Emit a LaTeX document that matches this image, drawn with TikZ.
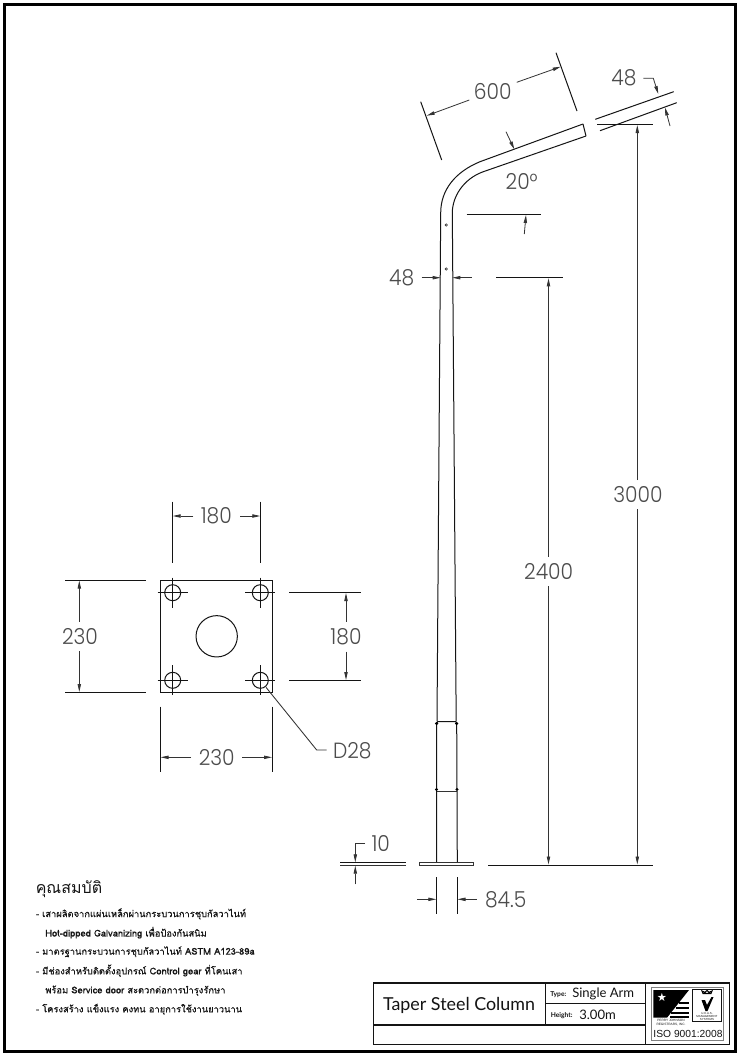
\documentclass[tikz,border=0pt]{standalone}
\usepackage{fontspec}
\usetikzlibrary{arrows.meta}
\setmainfont{Liberation Sans}
\newfontfamily\thaifont[Script=Thai,FakeBold=0.5]{Loma}
\newfontfamily\thaihead[Script=Thai]{Loma}
\newfontfamily\dimfont[FakeStretch=0.92]{Poppins Light}
\newfontfamily\titlefont{Lato}
\newfontfamily\symfont{DejaVu Sans}
\definecolor{ink}{gray}{0.08}
\definecolor{dimink}{gray}{0.2}
\definecolor{digit}{gray}{0.3}
\tikzset{
  part/.style={draw=ink,line width=0.75pt},
  thin line/.style={draw=dimink,line width=0.65pt},
  dimarrow/.style={draw=dimink,line width=0.6pt,-{Triangle[length=6pt,width=2.5pt]}},
  dimtext/.style={font=\dimfont\fontsize{16.5}{17}\selectfont,text=digit,inner sep=0pt},
  notes/.style={font=\thaifont\fontsize{7}{8}\selectfont,text=ink,anchor=west,inner sep=0pt},
  box/.style={draw=ink,line width=0.8pt},
}
\begin{document}
\begin{tikzpicture}[x=0.75pt,y=-0.75pt]
\useasboundingbox (0,0) rectangle (741,1058);
\fill[white] (0,0) rectangle (741,1058);
% sheet border
\draw[line width=2.4pt,draw=black] (4.5,4.5) rectangle (735.5,1051.7);

% ---- column
\draw[part] (583,124) -- (586,136);
\draw[part] (583,124) -- (480,161.7) .. controls (455,172) and (440.7,190) .. (440.7,213) -- (437,721);
\draw[part] (586,136) -- (483.3,171.7) .. controls (463,179) and (452.3,197) .. (452.3,213) -- (456.2,721);
\draw[thin line,line width=0.5pt] (446.3,225) circle[radius=0.9pt] (446.3,269) circle[radius=0.9pt];
% service door
\draw[part] (436.7,723.5) -- (437.6,721.7) -- (455.8,721.7) -- (456.7,723.5) -- (457,789.5);
\draw[part] (436.7,723.5) -- (436.5,789.5);
\fill[black] (436.7,723.5) circle[radius=1.3pt] (456.7,723.5) circle[radius=1.3pt]
  (436.5,789.5) circle[radius=1.3pt] (457,789.5) circle[radius=1.3pt];
\draw[thin line] (437,791.5) -- (457,791.5);
\draw[part] (436.7,791) -- (436.5,862.5);
\draw[part] (457,791) -- (457.3,862.5);
% base plate
\draw[thin line,line width=0.75pt] (419.5,862.4) rectangle (473.7,865.4);

% ---- column dimensions
\draw[part] (420.7,101.7) -- (441.7,160);
\draw[part] (556,52.7) -- (577,111);
\draw[dimarrow] (469.3,100) -- (426.7,115.7);
\draw[dimarrow] (516.7,82.3) -- (560.7,66.7);
\node[dimtext] (t600) at (492.7,91.5) {600};
\draw[dimarrow] (506,131.7) -- (514.3,149.3);
\node[dimtext] (t20) at (521.7,181.5) {20°};
\draw[part] (466.7,214.4) -- (540.7,214.4);
\draw[dimarrow] (524.3,234) -- (526,215);
% 48 top right
\draw[part] (595.3,119.3) -- (673.7,91.7);
\draw[part] (600,130.7) -- (676.7,102.7);
\node[dimtext] (t48a) at (624,78) {48};
\draw[dimarrow] (643.3,78.3) -- (653.3,78.3) -- (658.3,94);
\draw[dimarrow] (670,126) -- (665,107.5);
% 48 left
\node[dimtext] (t48b) at (401.7,277.7) {48};
\draw[dimarrow] (421.7,277.7) -- (440.7,277.7);
\draw[dimarrow] (471.7,277.7) -- (452.3,277.7);
% 3000 and 2400
\draw[part] (597,124.3) -- (653,124.3);
\draw[part] (496,277.7) -- (562.7,277.7);
\draw[dimarrow] (637.3,480) -- (637.3,125);
\draw[dimarrow] (637.3,509.3) -- (637.3,864.5);
\draw[dimarrow] (548.5,556.7) -- (548.5,278.3);
\draw[dimarrow] (548.5,586) -- (548.5,864.5);
\node[dimtext] (t3000) at (638,495) {3000};
\node[dimtext] (t2400) at (548.7,571.3) {2400};
\draw[part,line width=1pt] (488,865.3) -- (653,865.3);
% 10
\draw[part] (340,862.6) -- (405.5,862.6);
\draw[thin line,line width=0.75pt] (340,865.4) -- (405.5,865.4);
\node[dimtext] (t10) at (380.7,844) {10};
\draw[dimarrow] (365,843.3) -- (355.3,843.3) -- (355.3,862.3);
\draw[dimarrow] (355.3,884.3) -- (355.3,865.7);
% 84.5
\draw[part] (436.5,877.3) -- (436.5,914);
\draw[part] (457.5,877.3) -- (457.5,914);
\draw[dimarrow] (417.3,899.3) -- (436.3,899.3);
\draw[dimarrow] (476.7,899.3) -- (457.5,899.3);
\node[dimtext] (t845) at (505.7,900) {84.5};

% ---- base plate plan
\draw[part] (160.3,580.3) rectangle (272.3,692.3);
\draw[part] (216.7,636.3) circle[radius=15.5pt];
\foreach \hx/\hy in {172.7/592.7,260.3/592.7,172.7/680.3,260.3/680.3}{
  \draw[part] (\hx,\hy) circle[radius=6pt];
  \draw[part] (\hx-15,\hy) -- (\hx+15,\hy);
  \draw[part] (\hx,\hy-15) -- (\hx,\hy+15);
}
% 180 top
\draw[part] (172.7,501.7) -- (172.7,563.3);
\draw[part] (260.3,501.7) -- (260.3,563.3);
\draw[dimarrow] (193.3,516) -- (172.7,516);
\draw[dimarrow] (240,516) -- (260.3,516);
\node[dimtext] (t180a) at (216.3,516) {180};
% 230 left
\draw[part] (65,580.3) -- (145.7,580.3);
\draw[part] (65,692.3) -- (145.7,692.3);
\draw[dimarrow] (79.3,621.7) -- (79.3,580.6);
\draw[dimarrow] (79.3,651) -- (79.3,692);
\node[dimtext] (t230a) at (80,636.7) {230};
% 180 right
\draw[part] (289.3,592.7) -- (361,592.7);
\draw[part] (289.3,680.3) -- (361,680.3);
\draw[dimarrow] (346,621.7) -- (346,593);
\draw[dimarrow] (346,651.7) -- (346,680);
\node[dimtext] (t180b) at (346,636.7) {180};
% 230 bottom
\draw[part] (160.3,706.7) -- (160.3,772.3);
\draw[part] (272.3,706.7) -- (272.3,772.3);
\draw[dimarrow] (191,757.3) -- (160.6,757.3);
\draw[dimarrow] (242.3,757.3) -- (272,757.3);
\node[dimtext] (t230b) at (216.7,757.3) {230};
% D28
\draw[thin line] (266,687.3) -- (316.7,750) -- (326.7,750);
\node[dimtext] (td28) at (352.3,750.7) {D28};

% ---- notes
\node[notes,font=\thaihead\fontsize{12}{14}\selectfont] (nt) at (35.5,889) {คุณสมบัติ};
\node[notes] (n1) at (35.7,914) {- เสาผลิตจากแผ่นเหล็กผ่านกระบวนการชุบกัลวาไนท์};
\node[notes] (n2) at (45,932.7) {Hot-dipped Galvanizing เพื่อป้องกันสนิม};
\node[notes] (n3) at (35.7,951.7) {- มาตรฐานกระบวนการชุบกัลวาไนท์ ASTM A123-89a};
\node[notes] (n4) at (35.7,970.7) {- มีช่องสำหรับติดตั้งอุปกรณ์ Control gear ที่โคนเสา};
\node[notes] (n5) at (45,990.7) {พร้อม Service door สะดวกต่อการบำรุงรักษา};
\node[notes] (n6) at (35.7,1009.3) {- โครงสร้าง แข็งแรง คงทน อายุการใช้งานยาวนาน};

% ---- title block
\draw[box] (373.7,983) rectangle (729.3,1044.3);
\draw[box] (545.7,983) -- (545.7,1025);
\draw[box] (645.7,983) -- (645.7,1044.3);
\draw[box] (373.7,1025) -- (645.7,1025);
\draw[box] (545.7,1003.7) -- (645.7,1003.7);
\node[inner sep=0pt,font=\titlefont\fontsize{13.4}{16}\selectfont,text=ink] (title) at (459,1005.7) {Taper Steel Column};
\node[anchor=west,inner sep=0pt,font=\titlefont\bfseries\fontsize{5}{6}\selectfont,text=ink] (ltype) at (550,995) {Type:};
\node[anchor=west,inner sep=0pt,font=\titlefont\fontsize{9.8}{11}\selectfont,text=ink] (vtype) at (572,994) {Single Arm};
\node[anchor=west,inner sep=0pt,font=\titlefont\bfseries\fontsize{5}{6}\selectfont,text=ink] (lheight) at (550.5,1016) {Height:};
\node[anchor=west,inner sep=0pt,font=\titlefont\fontsize{9.8}{11}\selectfont,text=ink] (vheight) at (579,1015) {3.00m};
% logos
\draw[draw=gray,line width=0.5pt] (651,987.3) rectangle (723.3,1040.7);
\fill[black] (653.3,990) -- (689,990) -- (667,1017.7) -- (653.3,1017.7) -- cycle;
\foreach \sy/\sa/\sb in {1001.5/679/689,1006.5/675.5/689,1011.5/671/689}{
  \fill[black] (\sa,\sy) rectangle (\sb,\sy+2.8);
}
\fill[black] (670,1015.7) rectangle (689,1017.7);
\node[inner sep=0pt,font=\symfont\fontsize{8.5}{8.5}\selectfont,text=white] (star) at (662,997.5) {★};
\node[inner sep=0pt,align=center,font=\fontsize{2.4}{3}\selectfont,text=ink] (pj) at (671,1022.3) {PERRY JOHNSON\\[-0.3pt]REGISTRARS, INC.};
\draw[draw=ink,line width=0.6pt] (692.3,989) rectangle (721.7,1021.7);
\draw[draw=black,line width=0.8pt] (703,993.5) -- (711,993.5) -- (712,991) -- (709,992.3) -- (707,990.5) -- (705,992.3) -- (702,991) -- cycle;
\fill[black] (701.5,1000) -- (705,1000) -- (707,1005) -- (711.5,997) -- (713.5,997) -- (707.5,1011) -- (705.5,1011) -- cycle;
\node[inner sep=0pt,align=center,font=\fontsize{2.2}{2.6}\selectfont,text=ink] (ukas) at (707,1016.5) {U.K.A.S.\\[-0.3pt]MANAGEMENT\\[-0.3pt]SYSTEMS};
\node[inner sep=0pt,font=\fontsize{7.7}{9}\selectfont,text=ink] (iso) at (688,1034.3) {ISO 9001:2008};
\end{tikzpicture}
\end{document}
